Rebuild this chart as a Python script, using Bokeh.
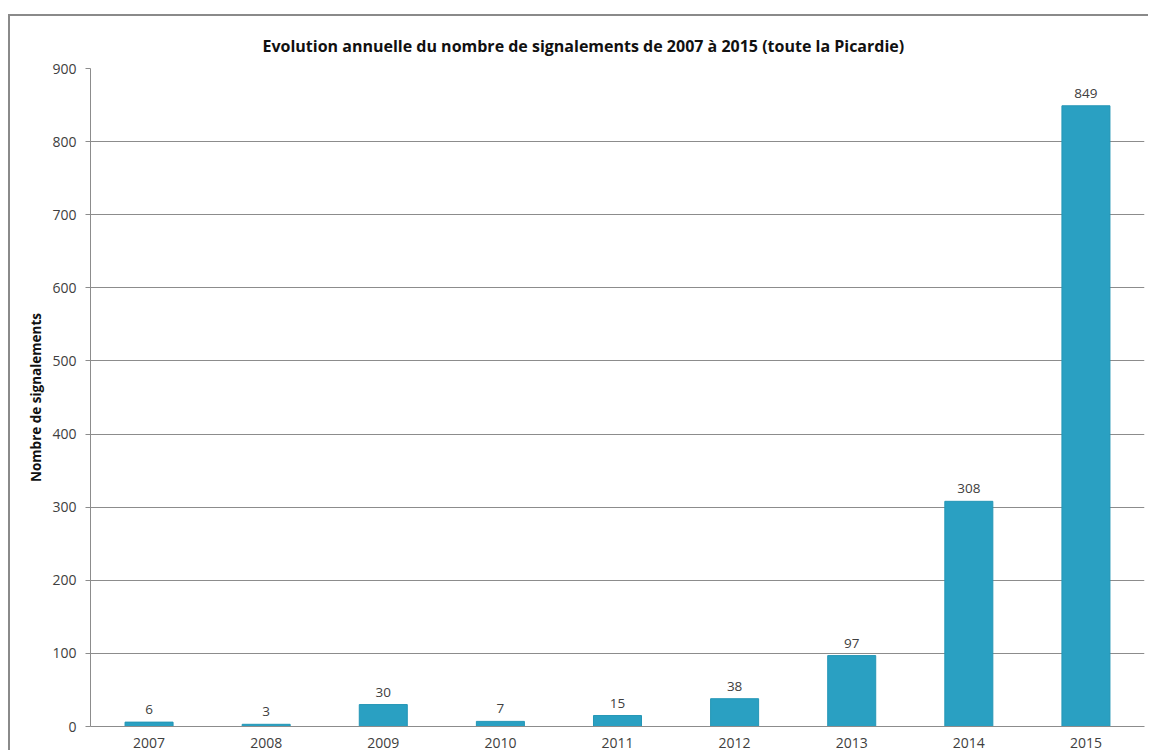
from bokeh.plotting import figure
from bokeh.models import ColumnDataSource, LabelSet, FixedTicker
from bokeh.core.properties import value
from bokeh.embed import file_html
from bokeh.resources import INLINE

years = ["2007", "2008", "2009", "2010", "2011", "2012", "2013", "2014", "2015"]
counts = [6, 3, 30, 7, 15, 38, 97, 308, 849]
y_ticks = [0, 100, 200, 300, 400, 500, 600, 700, 800, 900]

src = ColumnDataSource(dict(x=years, top=counts, label=[str(c) for c in counts]))

FONT = "Open Sans"

p = figure(
    x_range=years, y_range=(0, 900),
    frame_width=1054, frame_height=658,
    min_border_left=80, min_border_top=52, min_border_right=4, min_border_bottom=24,
    output_backend="svg", toolbar_location=None,
    title="Evolution annuelle du nombre de signalements de 2007 à 2015  (toute la Picardie)",
)
p.styles = {"border-top": "2px solid #8a8a8a", "border-left": "2px solid #8a8a8a",
            "margin-top": "14px", "margin-left": "8px"}

p.title.align = "left"
p.title.text_font = FONT
p.title.text_font_size = "16px"
p.title.text_font_style = "bold"
p.title.text_color = "#111111"
p.title.offset = 172
p.title.standoff = 24

p.vbar(x="x", top="top", width=0.41, source=src, fill_color="#2aa0c2", line_color="#2496b6")

labels = LabelSet(x="x", y="top", text="label", source=src, text_align="center",
                  text_baseline="bottom", y_offset=8, text_font=value(FONT),
                  text_font_size=value("13.5px"), text_color="#404040")
p.add_layout(labels)

p.xgrid.grid_line_color = None
p.ygrid.grid_line_color = "#8c8c8c"
p.ygrid.grid_line_width = 1
p.yaxis.ticker = FixedTicker(ticks=y_ticks)
p.yaxis.axis_label = "Nombre de signalements"
p.yaxis.axis_label_text_font = FONT
p.yaxis.axis_label_text_font_style = "bold"
p.yaxis.axis_label_text_font_size = "13.5px"
p.yaxis.axis_label_text_color = "#111111"
p.yaxis.axis_label_standoff = 4

for ax in (p.xaxis, p.yaxis):
    ax.axis_line_color = "#8c8c8c"
    ax.major_tick_line_color = "#8c8c8c"
    ax.minor_tick_line_color = None
    ax.major_label_text_font = FONT
    ax.major_label_text_font_size = "14px"
    ax.major_label_text_color = "#404040"
p.yaxis.major_tick_in = 0
p.yaxis.major_tick_out = 5
p.yaxis.major_label_standoff = 9
p.xaxis.major_tick_line_color = None
p.xaxis.major_label_standoff = 5

p.outline_line_color = None
p.background_fill_color = "white"
p.border_fill_color = "white"

open("out.html", "w").write(file_html(p, INLINE))
